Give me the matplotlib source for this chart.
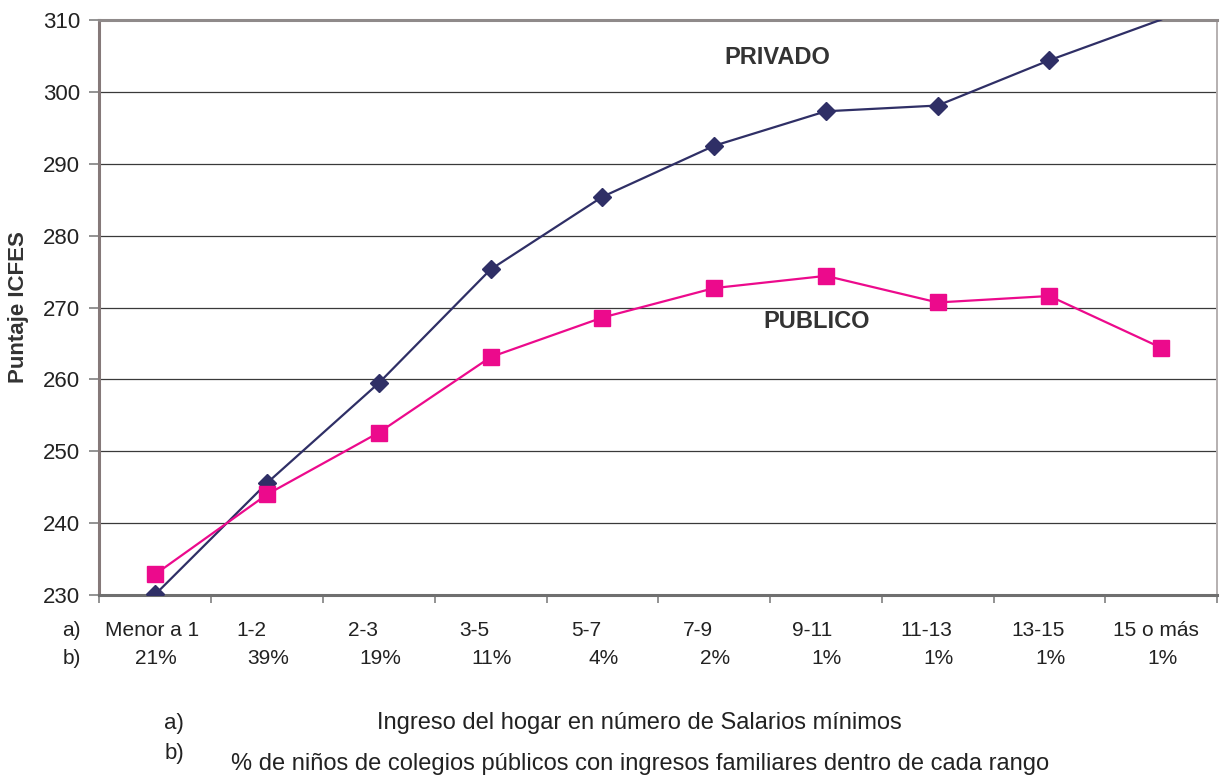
import matplotlib
matplotlib.use("Agg")
import matplotlib.pyplot as plt
import numpy as np
from matplotlib.transforms import offset_copy

plt.rcParams["font.family"] = ["Liberation Sans", "DejaVu Sans"]

# ── data ──
rangos = ["Menor a 1", "1-2", "2-3", "3-5", "5-7", "7-9", "9-11", "11-13", "13-15", "15 o más"]
pct_publico = ["21%", "39%", "19%", "11%", "4%", "2%", "1%", "1%", "1%", "1%"]
privado = [230.1, 245.6, 259.5, 275.3, 285.4, 292.5, 297.3, 298.1, 304.4, 310.05]
publico = [232.9, 244.0, 252.6, 263.1, 268.6, 272.7, 274.4, 270.7, 271.6, 264.4]

YMIN, YMAX = 230, 310
W, H = 1221, 776
TXT = "#222222"

fig = plt.figure(figsize=(W / 100, H / 100), dpi=100)
ax = fig.add_axes([99.5 / W, 1 - 595 / H, (1217 - 99.5) / W, (595 - 20) / H])

x = np.arange(len(rangos)) + 0.5
priv = np.array(privado)
# Excel-style: the line runs off the top, the marker of an off-scale point is not drawn
ax.plot(x, priv, color="#2F2F66", lw=1.6, zorder=3)
ax.plot(x, np.ma.masked_greater(priv, YMAX), ls="none", marker="D", ms=9.5,
        color="#2F2F66", zorder=3)
ax.plot(x, publico, color="#EC0A8C", lw=1.6, marker="s", ms=11, zorder=4)

ax.set_xlim(0, len(rangos))
ax.set_ylim(YMIN, YMAX)
ax.set_yticks(range(YMIN, YMAX + 1, 10))
ax.set_xticks(range(len(rangos) + 1))
ax.set_xticklabels([])
ax.tick_params(axis="y", labelsize=16, length=7, width=1.2, color="#808080", pad=7, labelcolor=TXT)
ax.tick_params(axis="x", length=6, width=1.2, color="#808080")

ax.grid(axis="y", color="#3a3a3a", lw=0.9)
ax.set_axisbelow(True)
for side, c, w in [("left", "#857979", 2.2), ("bottom", "#6f6f6f", 2.2),
                   ("top", "#8f8a8a", 2.2), ("right", "#b5b0b0", 1.4)]:
    ax.spines[side].set_color(c)
    ax.spines[side].set_linewidth(w)

# ── category labels under the axis (two rows) ──
base = ax.get_xaxis_transform()
for i, (r, p) in enumerate(zip(rangos, pct_publico)):
    # short range labels sit a little left of the category centre, as in the source
    dx = -2.2 * (9 - len(r)) - 3
    ta = offset_copy(base, fig=fig, x=dx, y=-36, units="dots")
    ax.text(x[i], 0, r, transform=ta, ha="center", va="center", fontsize=15, color=TXT)
    tb = offset_copy(base, fig=fig, x=1, y=-64, units="dots")
    ax.text(x[i], 0, p, transform=tb, ha="center", va="center", fontsize=15, color=TXT)

fig.text(81 / W, 1 - 631 / H, "a)", ha="right", va="center", fontsize=15, color=TXT)
fig.text(81 / W, 1 - 659 / H, "b)", ha="right", va="center", fontsize=15, color=TXT)

# ── series labels ──
fig.text(777 / W, 1 - 57 / H, "PRIVADO", ha="center", va="center", fontsize=17,
         fontweight="bold", color="#333333")
fig.text(817 / W, 1 - 321 / H, "PUBLICO", ha="center", va="center", fontsize=17,
         fontweight="bold", color="#333333")

fig.text(19 / W, 1 - 307 / H, "Puntaje ICFES", rotation=90, ha="center", va="center",
         fontsize=16, fontweight="bold", color="#333333")

# ── bottom notes ──
fig.text(184 / W, 1 - 723 / H, "a)", ha="right", va="center", fontsize=16, color=TXT)
fig.text(184 / W, 1 - 753 / H, "b)", ha="right", va="center", fontsize=16, color=TXT)
fig.text(639 / W, 1 - 723 / H, "Ingreso del hogar en número de Salarios mínimos",
         ha="center", va="center", fontsize=17, color=TXT)
fig.text(640 / W, 1 - 764 / H, "% de niños de colegios públicos con ingresos familiares dentro de cada rango",
         ha="center", va="center", fontsize=17, color=TXT)

fig.savefig("out.png", dpi=100)
